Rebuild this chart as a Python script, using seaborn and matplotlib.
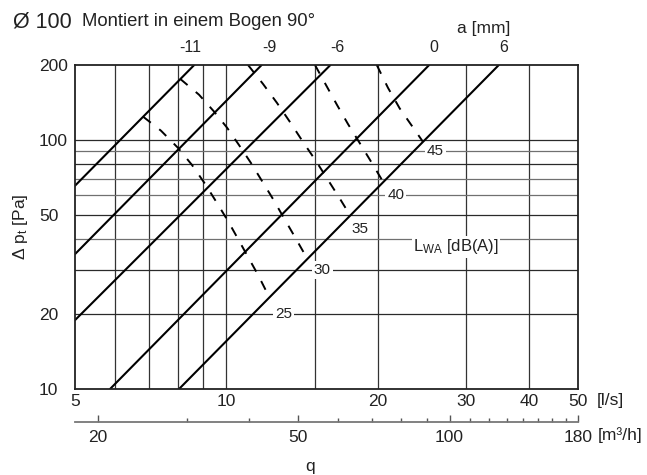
import matplotlib
matplotlib.use("Agg")
import matplotlib.pyplot as plt
import matplotlib.ticker as mticker
import pandas as pd
import seaborn as sns

# ---------------- data ----------------
x_ticks_ls = [5, 10, 20, 30, 40, 50]
y_ticks_pa = [10, 20, 50, 100, 200]
x_grid = [6, 7, 8, 9, 10, 15, 20, 30, 40]
y_grid_dark = [20, 30, 50, 80, 100]
y_grid_light = [40, 60, 70, 90]
m3h_major = [20, 50, 100, 180]
m3h_minor = [30, 40, 60, 70, 80, 90, 110, 120, 130, 140, 150, 160, 170]

# damper position lines a [mm]  (flow l/s, pressure Pa)
a_labels = ["-11", "-9", "-6", "0", "6"]
a_q = [[5, 8.63], [5, 11.75], [5, 16.1], [5.87, 25.3], [8.05, 34.8]]
a_p = [[65.5, 200], [34.8, 200], [18.9, 200], [10, 200], [10, 200]]
a_label_q = [8.46, 12.15, 16.6, 25.9, 35.6]

# sound power level lines L_WA [dB(A)]
lwa_labels = ["25", "30", "35", "40", "45"]
lwa_q = [
    [6.83, 7.41, 8.01, 8.54, 9.07, 9.58, 10.07, 10.55, 11.04, 11.56, 12.1],
    [8.09, 8.82, 9.45, 10.03, 10.59, 11.19, 11.77, 12.38, 13.01, 13.68, 14.45],
    [11.04, 11.82, 12.6, 13.38, 14.2, 15.07, 15.92, 16.82, 17.69],
    [15.0, 15.78, 16.6, 17.44, 18.35, 19.3, 20.5],
    [19.9, 20.95, 22.1, 23.3, 24.6],
]
lwa_p = [
    [124, 109, 93, 79.4, 66.6, 55.8, 47.3, 40.0, 33.9, 28.7, 23.9],
    [176, 152, 130, 112, 95.5, 80.8, 68.4, 57.9, 48.6, 40.8, 33.6],
    [200, 168, 141, 118, 98.2, 82.3, 69.1, 58.0, 49.1],
    [200, 166, 138, 116, 98.2, 83.1, 67.8],
    [200, 162, 134, 115, 98.2],
]
lwa_label_q = [13.0, 15.5, 18.4, 21.7, 26.0]
lwa_label_p = [20, 30, 44, 60, 90]

# ---------------- style ----------------
sns.set_style("ticks")
plt.rcParams["font.family"] = ["Liberation Sans", "DejaVu Sans"]
plt.rcParams["mathtext.fontset"] = "custom"
plt.rcParams["mathtext.rm"] = "Liberation Sans"
plt.rcParams["mathtext.it"] = "Liberation Sans"
TXT = "#222222"
FS = 12.5

W, H = 647, 475
fig = plt.figure(figsize=(W / 100, H / 100), dpi=100)
ax = fig.add_axes([75 / W, 1 - 389 / H, 503 / W, 324 / H])
ax.set_xscale("log")
ax.set_yscale("log")

# grid
for v in x_grid:
    ax.axvline(v, color="#333333", lw=0.9, zorder=1)
for v in y_grid_dark:
    ax.axhline(v, color="#2a2a2a", lw=0.9, zorder=1)
for v in y_grid_light:
    ax.axhline(v, color="#707070", lw=0.9, zorder=1)

# solid lines
rows = []
for lab, qs, ps in zip(a_labels, a_q, a_p):
    for q, p in zip(qs, ps):
        rows.append({"a": lab, "q": q, "p": p})
df_a = pd.DataFrame(rows)
sns.lineplot(data=df_a, x="q", y="p", units="a", estimator=None, color="black",
             lw=1.5, ax=ax, zorder=3, legend=False)

# dashed lines
rows = []
for lab, qs, ps in zip(lwa_labels, lwa_q, lwa_p):
    for q, p in zip(qs, ps):
        rows.append({"L": lab, "q": q, "p": p})
df_l = pd.DataFrame(rows)
sns.lineplot(data=df_l, x="q", y="p", units="L", estimator=None, color="black",
             lw=1.4, linestyle=(0, (5, 5.5)), ax=ax, zorder=3, legend=False)

ax.set_xlim(5, 50)
ax.set_ylim(10, 200)
ax.set_xlabel("")
ax.set_ylabel("")

# ticks
ax.xaxis.set_major_locator(mticker.FixedLocator(x_ticks_ls))
ax.xaxis.set_major_formatter(mticker.FixedFormatter([str(v) for v in x_ticks_ls]))
ax.xaxis.set_minor_locator(mticker.NullLocator())
ax.yaxis.set_major_locator(mticker.FixedLocator(y_ticks_pa))
ax.yaxis.set_major_formatter(mticker.FixedFormatter([str(v) for v in y_ticks_pa]))
ax.yaxis.set_minor_locator(mticker.NullLocator())
ax.tick_params(axis="x", length=0, pad=3.5, labelsize=FS, labelcolor=TXT)
ax.tick_params(axis="y", length=0, pad=26, labelsize=FS, labelcolor=TXT)
for t in ax.get_yticklabels():
    t.set_horizontalalignment("left")

for s in ax.spines.values():
    s.set_visible(True)
    s.set_color("#222222")
    s.set_linewidth(1.3)
    s.set_zorder(4)

# secondary m3/h axis
sec = ax.secondary_xaxis(-(422 - 389) / 324, functions=(lambda q: q * 3.6, lambda m: m / 3.6))
sec.xaxis.set_major_locator(mticker.FixedLocator(m3h_major))
sec.xaxis.set_major_formatter(mticker.FixedFormatter([str(v) for v in m3h_major]))
sec.xaxis.set_minor_locator(mticker.FixedLocator(m3h_minor))
sec.xaxis.set_minor_formatter(mticker.NullFormatter())
sec.tick_params(which="major", direction="in", length=5, width=1, color="#555555",
                pad=6, labelsize=FS, labelcolor=TXT)
sec.tick_params(which="minor", direction="in", length=3, width=1, color="#555555")
sec.spines["bottom"].set_color("#777777")
sec.spines["bottom"].set_linewidth(1.3)
sec.spines["top"].set_visible(False)

# a [mm] labels on top
tr = ax.get_xaxis_transform()
for lab, q in zip(a_labels, a_label_q):
    ax.text(q, 1 + 17 / 324, lab, transform=tr, ha="center", va="center",
            fontsize=FS - 1, color=TXT)

# L_WA labels
for lab, q, p in zip(lwa_labels, lwa_label_q, lwa_label_p):
    ax.text(q, p, lab, ha="center", va="center", fontsize=11, color=TXT, zorder=5,
            bbox=dict(facecolor="white", edgecolor="none", pad=1.5))
ax.text(23.5, 37.2, r"L$_{\mathrm{WA}}$ [dB(A)]", ha="left", va="center", fontsize=12,
        color=TXT, zorder=5, bbox=dict(facecolor="white", edgecolor="none", pad=1.0))

# texts in figure coordinates
fig.text(13 / W, 1 - 27 / H, "Ø 100", fontsize=15.5, color=TXT, ha="left", va="baseline")
fig.text(82 / W, 1 - 26 / H, "Montiert in einem Bogen 90°", fontsize=13.3, color=TXT,
         ha="left", va="baseline")
fig.text(484 / W, 1 - 28 / H, "a [mm]", fontsize=FS, color=TXT, ha="center", va="center")
fig.text(597 / W, 1 - 400 / H, "[l/s]", fontsize=FS, color=TXT, ha="left", va="center")
fig.text(598 / W, 1 - 435 / H, "[m³/h]", fontsize=FS, color=TXT, ha="left", va="center")
fig.text(310 / W, 1 - 471 / H, "q", fontsize=FS, color=TXT, ha="center", va="baseline")
fig.text(21 / W, 1 - 227 / H, r"Δ p$_{\mathrm{t}}$ [Pa]", fontsize=FS, color=TXT,
         ha="center", va="center", rotation=90)

fig.savefig("out.png", dpi=100)
